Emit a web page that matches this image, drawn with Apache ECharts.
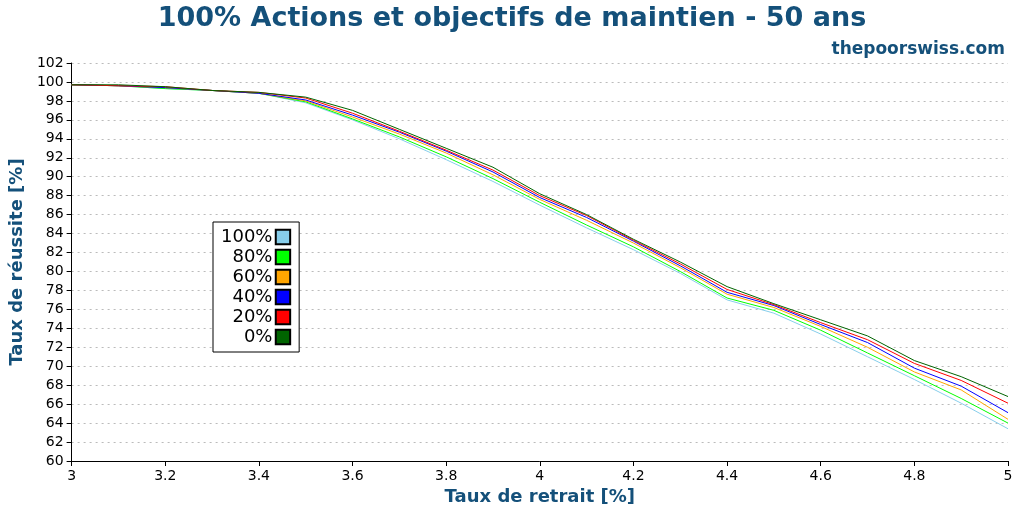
<!DOCTYPE html><html><head><meta charset="utf-8"><script src="https://cdn.jsdelivr.net/npm/echarts@6/dist/echarts.min.js"></script></head><body style="margin:0"><div id="c" style="width:1024px;height:512px"></div><script>
const xs=[3.0,3.1,3.2,3.3,3.4,3.5,3.6,3.7,3.8,3.9,4.0,4.1,4.2,4.3,4.4,4.5,4.6,4.7,4.8,4.9,5.0];
const s100=[99.7,99.6,99.3,99.1,98.8,97.8,96.0,94.0,91.8,89.5,87.0,84.6,82.3,79.8,77.0,75.6,73.4,71.0,68.6,66.1,63.4];
const s80=[99.7,99.6,99.3,99.1,98.8,97.9,96.1,94.2,92.1,89.8,87.3,84.9,82.6,80.0,77.2,75.9,73.8,71.4,69.0,66.6,64.0];
const s60=[99.7,99.6,99.4,99.1,98.8,98.0,96.3,94.5,92.5,90.2,87.6,85.4,83.0,80.4,77.6,76.2,74.2,72.0,69.4,67.5,64.4];
const s40=[99.7,99.6,99.4,99.1,98.8,98.1,96.5,94.7,92.7,90.5,87.8,85.7,83.2,80.6,77.8,76.4,74.4,72.5,69.8,67.9,65.1];
const s20=[99.7,99.6,99.5,99.1,98.9,98.3,96.7,94.8,92.8,90.7,88.0,85.9,83.3,80.8,78.1,76.5,74.6,72.8,70.3,68.5,66.1];
const s0=[99.7,99.7,99.5,99.1,98.9,98.4,97.0,95.0,93.0,91.0,88.2,86.0,83.4,81.0,78.4,76.6,74.9,73.2,70.6,68.9,66.8];
const names=['100%','80%','60%','40%','20%','0%'];
const data=[s100,s80,s60,s40,s20,s0];
const colors=['#87ceeb','#00ff00','#ffa500','#0000ff','#ff0000','#006400'];
const ax={fontSize:14,color:'#000'};
const series=names.map((n,i)=>({name:n,type:'line',data:xs.map((x,j)=>[x,data[i][j]]),showSymbol:false,symbol:'rect',lineStyle:{width:1,color:colors[i]},itemStyle:{color:colors[i],borderColor:'#000',borderWidth:1},z:2+i}));
echarts.init(document.getElementById('c')).setOption({
animation:false,
title:[{text:'100% Actions et objectifs de maintien - 50 ans',left:'center',top:0,textStyle:{fontSize:27,fontWeight:'bold',color:'#14507a',fontFamily:'DejaVu Sans'}},
{text:'thepoorswiss.com',right:14,top:36,textStyle:{fontSize:17,fontWeight:'bold',color:'#14507a',fontFamily:'DejaVu Sans'}}],
grid:{left:69,right:16,top:63,bottom:51},
legend:{orient:'vertical',left:213,top:222,align:'right',itemWidth:11,itemHeight:18,itemGap:2,padding:[6,8,6,8],borderColor:'#000',borderWidth:1,backgroundColor:'#fff',data:names,textStyle:{fontSize:18,color:'#000',fontFamily:'DejaVu Sans'}},
xAxis:{type:'value',min:3,max:5,interval:0.2,name:'Taux de retrait [%]',nameLocation:'middle',nameGap:26,nameTextStyle:{fontSize:18,fontWeight:'bold',color:'#14507a',fontFamily:'DejaVu Sans'},axisLine:{lineStyle:{color:'#000'}},axisTick:{lineStyle:{color:'#000'}},axisLabel:Object.assign({fontFamily:'DejaVu Sans'},ax),splitLine:{show:false}},
yAxis:{type:'value',min:60,max:102,interval:2,name:'Taux de réussite [%]',nameLocation:'middle',nameGap:44,nameTextStyle:{fontSize:18,fontWeight:'bold',color:'#14507a',fontFamily:'DejaVu Sans'},axisLine:{show:true,lineStyle:{color:'#000'}},axisTick:{show:true,lineStyle:{color:'#000'}},axisLabel:Object.assign({fontFamily:'DejaVu Sans'},ax),splitLine:{lineStyle:{color:'#bbb',type:[2,4]}}},
series:series});
</script></body></html>
